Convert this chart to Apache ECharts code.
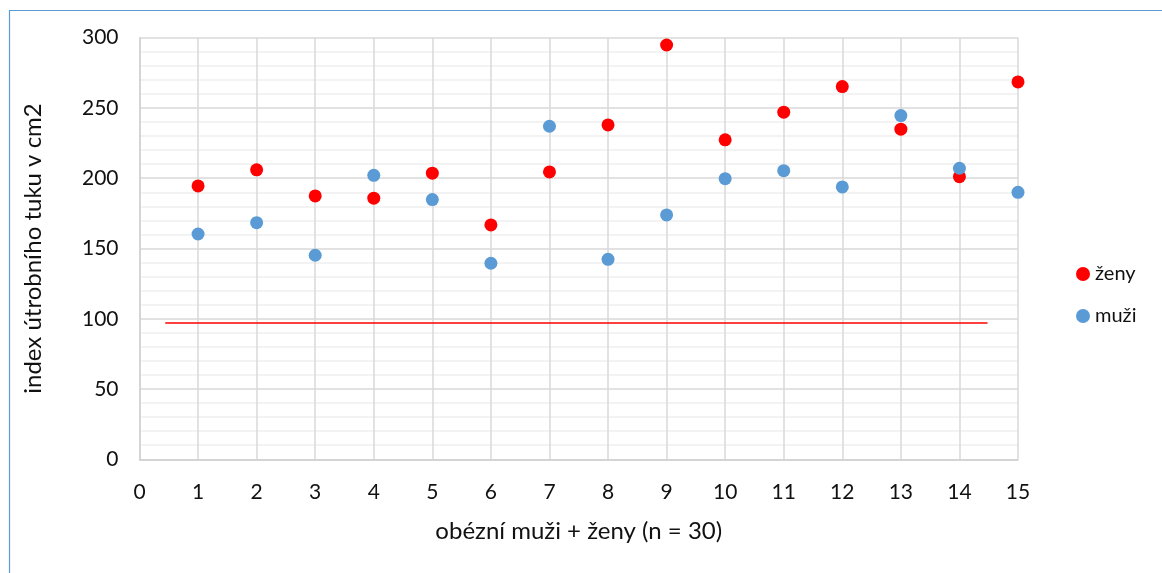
<!DOCTYPE html>
<html>
<head>
<meta charset="utf-8">
<script src="https://cdn.jsdelivr.net/npm/echarts@6/dist/echarts.min.js"></script>
<style>
  html, body { margin: 0; padding: 0; background: #fff; }
  #chart { width: 1162px; height: 573px; }
</style>
</head>
<body>
<div id="chart"></div>
<script>
// Pacient index (1..15) for each group
const patients = [1, 2, 3, 4, 5, 6, 7, 8, 9, 10, 11, 12, 13, 14, 15];
// Visceral fat index (cm2), women
const zenyValues = [194.5, 206, 187.4, 185.8, 203.6, 166.8, 204.5, 237.9, 294.8, 227.3, 247, 265.2, 234.9, 201.1, 268.5];
// Visceral fat index (cm2), men
const muziValues = [160.3, 168.4, 145.2, 202.1, 184.8, 139.5, 237, 142.3, 173.9, 199.7, 205.4, 193.8, 244.6, 207.1, 190];
// Reference threshold line
const thresholdX = [0.44, 14.48];
const thresholdY = 97;

const FONT = 'Lato, "Noto Sans", sans-serif';

const chart = echarts.init(document.getElementById('chart'), null, { renderer: 'canvas' });

chart.setOption({
  animation: false,
  backgroundColor: '#ffffff',
  graphic: [{
    type: 'rect',
    left: 7, top: 8,
    shape: { x: 0, y: 0, width: 1180, height: 600 },
    style: { fill: 'none', stroke: '#5b9bd5', lineWidth: 1.2 },
    silent: true
  }],
  grid: { left: 139.5, right: 144, top: 37.7, bottom: 113.7 },
  legend: {
    data: ['ženy', 'muži'],
    orient: 'vertical',
    left: 1071, top: 259,
    itemGap: 22,
    itemWidth: 14, itemHeight: 14,
    icon: 'circle',
    textStyle: { fontFamily: FONT, fontSize: 20, color: '#111' }
  },
  xAxis: {
    type: 'value',
    min: 0, max: 15, interval: 1,
    name: 'obézní muži + ženy (n = 30)',
    nameLocation: 'middle',
    nameGap: 60,
    nameTextStyle: { fontFamily: FONT, fontSize: 24, color: '#111' },
    axisLine: { show: true, lineStyle: { color: '#d0d0d0', width: 1.5 } },
    axisTick: { show: false },
    axisLabel: { fontFamily: FONT, fontSize: 21, color: '#111', margin: 22 },
    splitLine: { show: true, lineStyle: { color: '#d9d9d9', width: 1.5 } }
  },
  yAxis: {
    type: 'value',
    min: 0, max: 300, interval: 50,
    name: 'index útrobního tuku v cm2',
    nameLocation: 'middle',
    nameGap: 94,
    nameRotate: 90,
    nameTextStyle: { fontFamily: FONT, fontSize: 24, color: '#111' },
    axisLine: { show: true, lineStyle: { color: '#d0d0d0', width: 1.5 } },
    axisTick: { show: false },
    axisLabel: { fontFamily: FONT, fontSize: 21, color: '#111', margin: 21 },
    splitLine: { show: true, lineStyle: { color: '#d9d9d9', width: 1.5 } },
    minorTick: { show: false, splitNumber: 5 },
    minorSplitLine: { show: true, lineStyle: { color: '#efefef', width: 1.5 } }
  },
  series: [
    {
      name: 'hranice',
      type: 'line',
      data: thresholdX.map(x => [x, thresholdY]),
      symbol: 'none',
      silent: true,
      lineStyle: { color: '#ff0000', width: 1.3 },
      z: 1
    },
    {
      name: 'ženy',
      type: 'scatter',
      data: patients.map((p, i) => [p, zenyValues[i]]),
      symbolSize: 13,
      itemStyle: { color: '#ff0000', opacity: 1 },
      z: 3
    },
    {
      name: 'muži',
      type: 'scatter',
      data: patients.map((p, i) => [p, muziValues[i]]),
      symbolSize: 13,
      itemStyle: { color: '#5b9bd5', opacity: 1 },
      z: 4
    }
  ]
});
</script>
</body>
</html>
